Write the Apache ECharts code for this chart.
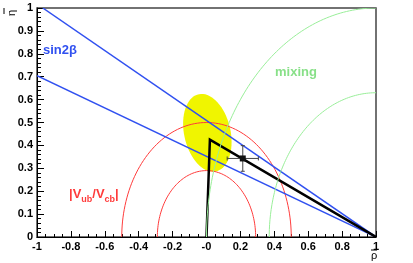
<!DOCTYPE html>
<html><head><meta charset="utf-8">
<script src="https://cdn.jsdelivr.net/npm/echarts@6/dist/echarts.min.js"></script>
<style>html,body{margin:0;padding:0;background:#fff}#c{width:413px;height:263px}</style>
</head><body><div id="c"></div>
<script>
// ---- data ----
var xTickLabels = ['-1','-0.8','-0.6','-0.4','-0.2','-0','0.2','0.4','0.6','0.8','1'];
var yTickLabels = ['0','0.1','0.2','0.3','0.4','0.5','0.6','0.7','0.8','0.9','1'];
// |Vub/Vcb| circles centred at (0,0): radii
var vubRadii = [0.5, 0.29];
// mixing circles centred at (1,0): radii
var mixRadii = [1.0, 0.63];
// sin2beta lines: endpoints from apex (1,0)
var sinLineA = [[1, 0], [-0.966, 1]];
var sinLineB = [[1, 0], [-1, 0.705]];
// unitarity triangle
var triangle = [[0, 0], [0.02, 0.425], [1, 0]];
// measured point with errors [x, y, ex, ey]
var point = [0.214, 0.343, 0.092, 0.056];
// yellow allowed region: centre x,y, semi-axes rx, ry, tilt k
var blob = [0.005, 0.455, 0.143, 0.165, 0.04];

var chart = echarts.init(document.getElementById('c'), null, {renderer: 'canvas'});
var font = 'Liberation Sans, Arial, sans-serif';

function arcPoints(cx, cy, r, a0, a1, n) {
  var pts = [];
  for (var i = 0; i <= n; i++) {
    var a = a0 + (a1 - a0) * i / n;
    pts.push([cx + r * Math.cos(a), cy + r * Math.sin(a)]);
  }
  return pts;
}
function polyRender(color, width, fill) {
  return function (params, api) {
    var pts = params.context.pts.map(function (p) { return api.coord(p); });
    if (fill) {
      return {type: 'polygon', shape: {points: pts}, style: {fill: color, stroke: null}};
    }
    return {type: 'polyline', shape: {points: pts}, style: {stroke: color, lineWidth: width, fill: null}};
  };
}
function curveSeries(pts, color, width, fill, z) {
  return {
    type: 'custom', coordinateSystem: 'cartesian2d', clip: true, z: z, silent: true,
    data: [[0, 0]],
    renderItem: function (params, api) {
      params.context.pts = pts;
      return polyRender(color, width, fill)(params, api);
    }
  };
}

var blobPts = [];
for (var i = 0; i <= 72; i++) {
  var t = i / 72 * 2 * Math.PI;
  blobPts.push([blob[0] + blob[2] * Math.cos(t), blob[1] + blob[3] * Math.sin(t) - blob[4] * Math.cos(t)]);
}

var series = [];
series.push(curveSeries(blobPts, '#f0f500', 0, true, 1));
vubRadii.forEach(function (r) { series.push(curveSeries(arcPoints(0, 0, r, 0, Math.PI, 90), '#ff3b3b', 1, false, 2)); });
series.push(curveSeries(sinLineA, '#3050f0', 1.5, false, 3));
series.push(curveSeries(sinLineB, '#3050f0', 1.5, false, 3));
series.push(curveSeries(triangle, '#000', 2.5, false, 4));
mixRadii.forEach(function (r) { series.push(curveSeries(arcPoints(1, 0, r, Math.PI / 2, Math.PI, 90), '#99ee99', 1, false, 5)); });
// error bars + marker
series.push({
  type: 'custom', coordinateSystem: 'cartesian2d', z: 6, silent: true,
  data: [point],
  renderItem: function (params, api) {
    var x = api.value(0), y = api.value(1), ex = api.value(2), ey = api.value(3);
    var c = api.coord([x, y]);
    var l = api.coord([x - ex, y]), r = api.coord([x + ex, y]);
    var b = api.coord([x, y - ey]), t = api.coord([x, y + ey]);
    var st = {stroke: '#444', lineWidth: 1};
    return {type: 'group', children: [
      {type: 'line', shape: {x1: l[0], y1: l[1], x2: r[0], y2: r[1]}, style: st},
      {type: 'line', shape: {x1: b[0], y1: b[1], x2: t[0], y2: t[1]}, style: st},
      {type: 'line', shape: {x1: l[0], y1: l[1] - 2, x2: l[0], y2: l[1] + 2}, style: st},
      {type: 'line', shape: {x1: r[0], y1: r[1] - 2, x2: r[0], y2: r[1] + 2}, style: st},
      {type: 'line', shape: {x1: b[0] - 2, y1: b[1], x2: b[0] + 2, y2: b[1]}, style: st},
      {type: 'line', shape: {x1: t[0] - 2, y1: t[1], x2: t[0] + 2, y2: t[1]}, style: st},
      {type: 'rect', shape: {x: c[0] - 3, y: c[1] - 3, width: 6, height: 6}, style: {fill: '#111'}}
    ]};
  }
});

var option = {
  animation: false,
  grid: {left: 37, right: 37, top: 8, bottom: 26, show: true, borderColor: '#444', borderWidth: 1.5, backgroundColor: 'transparent'},
  xAxis: {
    type: 'value', min: -1, max: 1, interval: 0.2,
    axisLine: {show: true, onZero: false, lineStyle: {color: '#000', width: 1}},
    axisTick: {show: true, inside: true, length: 6, lineStyle: {color: '#000'}},
    minorTick: {show: true, splitNumber: 4, length: 3, lineStyle: {color: '#000'}},
    splitLine: {show: false},
    axisLabel: {margin: 4, fontFamily: font, fontWeight: 'bold', fontSize: 11, color: '#000',
      formatter: function (v) { var i = Math.round((v + 1) / 0.2); return xTickLabels[i]; }}
  },
  yAxis: {
    type: 'value', min: 0, max: 1, interval: 0.1,
    axisLine: {show: true, onZero: false, lineStyle: {color: '#000', width: 1}},
    axisTick: {show: true, inside: true, length: 7, lineStyle: {color: '#000'}},
    minorTick: {show: true, splitNumber: 5, length: 4, lineStyle: {color: '#000'}},
    splitLine: {show: false},
    axisLabel: {margin: 4, fontFamily: font, fontWeight: 'bold', fontSize: 11, color: '#000',
      formatter: function (v) { var i = Math.round(v / 0.1); return yTickLabels[i]; }}
  },
  series: series,
  graphic: [
    {type: 'text', left: 43, top: 44, z: 10, style: {text: 'sin2β', fill: '#3050f0', font: 'bold 13px ' + font}},
    {type: 'text', left: 275, top: 66, z: 10, style: {text: 'mixing', fill: '#88e088', font: 'bold 13px ' + font}},
    {type: 'text', left: 69, top: 187, z: 10, style: {
      text: '{m||V}{s|ub}{m|/V}{s|cb}{m||}', fill: '#ff3b3b',
      rich: {m: {font: 'bold 13px ' + font, fill: '#ff3b3b', verticalAlign: 'top', lineHeight: 16},
             s: {font: 'bold 9px ' + font, fill: '#ff3b3b', padding: [8, 0, 0, 0], lineHeight: 16}}}},
    {type: 'text', left: 371, top: 250, z: 10, style: {text: 'ρ', fill: '#000', font: '11px ' + font}},
    {type: 'line', z: 10, shape: {x1: 371, y1: 250, x2: 377, y2: 250}, style: {stroke: '#000', lineWidth: 1}},
    {type: 'text', x: 6, y: 16, rotation: Math.PI / 2, z: 10, style: {text: 'η', fill: '#000', font: '11px ' + font}},
    {type: 'line', z: 10, shape: {x1: 4, y1: 8, x2: 4, y2: 14}, style: {stroke: '#000', lineWidth: 1}}
  ]
};
chart.setOption(option);
</script></body></html>
